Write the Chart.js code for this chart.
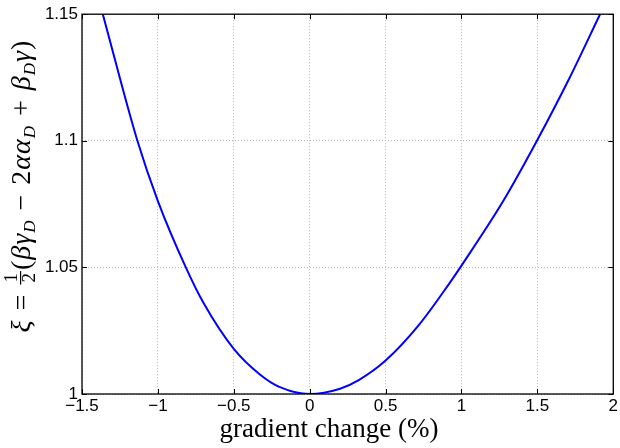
<!DOCTYPE html>
<html>
<head>
<meta charset="utf-8">
<script src="https://cdn.jsdelivr.net/npm/chart.js@4.4.1/dist/chart.umd.min.js"></script>
<style>
  html, body { margin: 0; padding: 0; background: #fff; }
  #wrap { width: 620px; height: 448px; }
</style>
</head>
<body>
<div id="wrap"><canvas id="chart"></canvas></div>
<script>
// values
const gradientChange = [-1.363, -1.135, -1.0, -0.816, -0.70, -0.5, -0.33, -0.2, 0, 0.2, 0.326, 0.5, 0.72, 0.917, 1.0, 1.278, 1.497, 1.705, 1.913];
const xi = [1.150, 1.100, 1.0762, 1.050, 1.036, 1.0178, 1.0078, 1.0028, 1.000, 1.0021, 1.0056, 1.0132, 1.0273, 1.0434, 1.0507, 1.0765, 1.100, 1.124, 1.150];
const xTicks = [-1.5, -1, -0.5, 0, 0.5, 1, 1.5, 2];
const yTicks = [1, 1.05, 1.1, 1.15];

const tickFont = { family: "'Liberation Sans', Arial, sans-serif", size: 17 };
const fmt = v => (v < 0 ? '\u2212' + Math.abs(v) : String(v));
const serif = "'Liberation Serif', 'DejaVu Serif', serif";

// box, inward ticks and the two axis titles
const frame = {
    id: 'frame',
    afterDraw(chart) {
        const { ctx, chartArea: a, scales } = chart;
        ctx.save();
        ctx.strokeStyle = '#000';
        ctx.lineWidth = 1.3;
        ctx.strokeRect(a.left, a.top, a.right - a.left, a.bottom - a.top);
        ctx.lineWidth = 1;
        ctx.beginPath();
        xTicks.forEach(v => {
            const px = Math.round(scales.x.getPixelForValue(v)) + 0.5;
            ctx.moveTo(px, a.bottom); ctx.lineTo(px, a.bottom - 5);
            ctx.moveTo(px, a.top); ctx.lineTo(px, a.top + 5);
        });
        yTicks.forEach(v => {
            const py = Math.round(scales.y.getPixelForValue(v)) + 0.5;
            ctx.moveTo(a.left, py); ctx.lineTo(a.left + 5, py);
            ctx.moveTo(a.right, py); ctx.lineTo(a.right - 5, py);
        });
        ctx.stroke();

        // x title
        ctx.fillStyle = '#000';
        ctx.font = '27px ' + serif;
        ctx.textAlign = 'center';
        ctx.textBaseline = 'alphabetic';
        ctx.fillText('gradient change (%)', 329, 437);

        // y title, rotated, with subscripts
        const fs = 28;
        const it = `italic ${fs}px ${serif}`;
        const rm = `${fs}px ${serif}`;
        const sm = `italic ${Math.round(fs * 0.6)}px ${serif}`;
        const fr = `${Math.round(fs * 0.68)}px ${serif}`;
        const parts = [
            { t: '\u03BE', f: it }, { t: '=', f: rm, op: true }, { frac: true },
            { t: '(', f: rm }, { t: '\u03B2', f: it }, { t: '\u03B3', f: it }, { t: 'D', f: sm, sub: true },
            { t: '\u2212', f: rm, op: true }, { t: '2', f: rm }, { t: '\u03B1', f: it }, { t: '\u03B1', f: it }, { t: 'D', f: sm, sub: true },
            { t: '+', f: rm, op: true }, { t: '\u03B2', f: it }, { t: 'D', f: sm, sub: true },
            { t: '\u03B3', f: it }, { t: ')', f: rm }
        ];
        parts.forEach(p => {
            if (p.frac) { ctx.font = fr; p.w = ctx.measureText('2').width + 4; }
            else { ctx.font = p.f; p.w = ctx.measureText(p.t).width; }
            p.pre = 1;
        });
        const natural = parts.reduce((s, p) => s + p.w + p.pre, 0);
        const opGap = Math.max(4, (347 - natural) / 12);
        parts.forEach((p, i) => {
            if (p.op) { p.pre += opGap; if (parts[i + 1]) parts[i + 1].pre += opGap; }
        });
        const total = parts.reduce((s, p) => s + p.w + p.pre, 0);
        ctx.translate(0, 187);
        ctx.rotate(-Math.PI / 2);
        ctx.textAlign = 'left';
        let u = -total / 2;
        const base = 30;
        parts.forEach(p => {
            u += p.pre;
            if (p.frac) {
                ctx.font = fr;
                ctx.fillText('1', u + 2, base - 13);
                ctx.fillText('2', u + 2, base + 5);
                ctx.fillRect(u, base - 10, p.w, 1.2);
            } else {
                ctx.font = p.f;
                ctx.fillText(p.t, u, p.sub ? base + 5 : base);
            }
            u += p.w;
        });
        ctx.restore();
    }
};

new Chart(document.getElementById('chart'), {
    type: 'scatter',
    data: {
        datasets: [{
            data: gradientChange.map((x, i) => ({ x: x, y: xi[i] })),
            showLine: true,
            borderColor: '#0000ff',
            borderWidth: 2,
            pointRadius: 0,
            cubicInterpolationMode: 'monotone'
        }]
    },
    options: {
        responsive: true,
        maintainAspectRatio: false,
        animation: false,
        layout: { padding: { top: 12, right: 5, left: 0, bottom: 0 } },
        plugins: { legend: { display: false }, tooltip: { enabled: false } },
        scales: {
            x: {
                type: 'linear',
                min: -1.5, max: 2,
                afterBuildTicks: s => { s.ticks = xTicks.map(v => ({ value: v })); },
                afterFit: s => { s.height = 54; },
                ticks: { font: tickFont, color: '#000', padding: 2, maxRotation: 0, callback: fmt },
                grid: { color: '#b8b8b8', drawTicks: false },
                border: { display: false, dash: [1, 2] }
            },
            y: {
                min: 1, max: 1.15,
                afterBuildTicks: s => { s.ticks = yTicks.map(v => ({ value: v })); },
                afterFit: s => { s.width = 82; },
                ticks: { font: tickFont, color: '#000', padding: 4, callback: fmt },
                grid: { color: '#b8b8b8', drawTicks: false },
                border: { display: false, dash: [1, 2] }
            }
        }
    },
    plugins: [frame]
});
</script>
</body>
</html>
